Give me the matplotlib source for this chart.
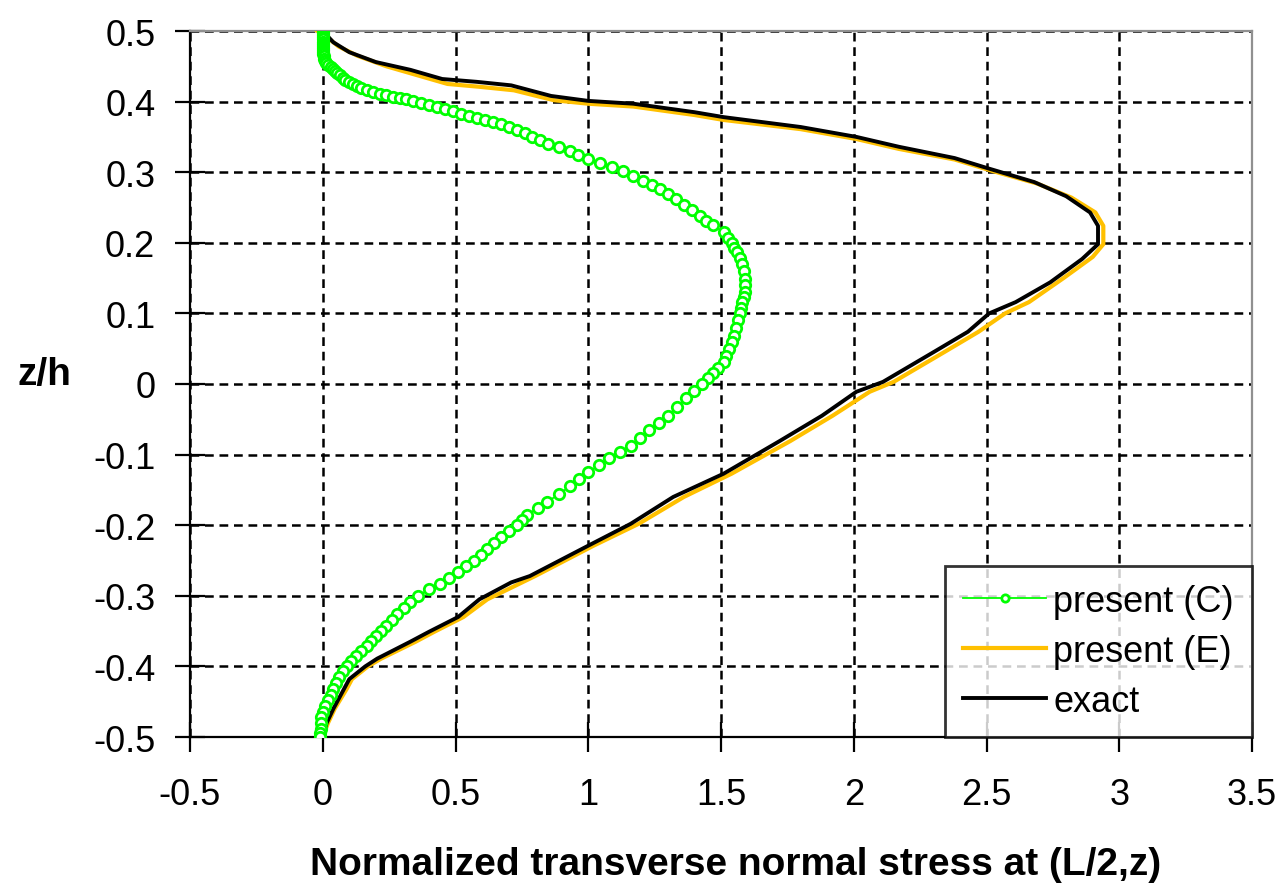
import matplotlib
matplotlib.use('Agg')
import matplotlib.pyplot as plt
from matplotlib.ticker import FuncFormatter, MultipleLocator

plt.rcParams['font.family'] = ['Liberation Sans', 'DejaVu Sans']
plt.rcParams['axes.unicode_minus'] = False

# exact solution (z/h, stress)
exact_z = [0.5, 0.484, 0.47, 0.456, 0.445, 0.432, 0.428, 0.423, 0.408, 0.401, 0.397, 0.385,
           0.378, 0.364, 0.35, 0.336, 0.32, 0.305, 0.286, 0.266, 0.243, 0.224, 0.198, 0.177,
           0.144, 0.116, 0.10, 0.074, 0.045, 0.003, -0.011, -0.045, -0.081, -0.127, -0.16,
           -0.198, -0.229, -0.272, -0.281, -0.305, -0.33, -0.351, -0.365, -0.389, -0.40,
           -0.418, -0.432, -0.46, -0.48, -0.5]
exact_x = [0.0, 0.04, 0.10, 0.20, 0.33, 0.45, 0.58, 0.71, 0.86, 1.0, 1.17, 1.40,
           1.51, 1.80, 2.01, 2.17, 2.38, 2.51, 2.68, 2.80, 2.89, 2.92, 2.92, 2.86,
           2.74, 2.61, 2.51, 2.43, 2.30, 2.11, 2.01, 1.88, 1.72, 1.51, 1.32,
           1.16, 1.0, 0.78, 0.71, 0.59, 0.51, 0.40, 0.33, 0.205, 0.16,
           0.10, 0.08, 0.04, 0.015, 0.0]

# present (E)
pres_e_z = [0.5, 0.49, 0.478, 0.465, 0.45, 0.438, 0.425, 0.421, 0.416, 0.402, 0.397, 0.393,
            0.381, 0.374, 0.361, 0.347, 0.333, 0.318, 0.302, 0.284, 0.264, 0.243, 0.224,
            0.198, 0.18, 0.15, 0.116, 0.10, 0.074, 0.045, 0.003, -0.011, -0.045, -0.081,
            -0.127, -0.16, -0.198, -0.229, -0.272, -0.305, -0.33, -0.351, -0.365, -0.389,
            -0.40, -0.418, -0.432, -0.46, -0.48, -0.5]
pres_e_x = [-0.02, 0.02, 0.06, 0.13, 0.24, 0.35, 0.47, 0.59, 0.72, 0.87, 1.0, 1.17,
            1.40, 1.51, 1.80, 2.01, 2.17, 2.38, 2.52, 2.69, 2.82, 2.91, 2.94,
            2.94, 2.90, 2.79, 2.66, 2.57, 2.47, 2.34, 2.15, 2.06, 1.92, 1.76,
            1.54, 1.36, 1.19, 1.02, 0.80, 0.62, 0.53, 0.42, 0.35, 0.22,
            0.17, 0.11, 0.09, 0.045, 0.02, 0.0]

# present (C)
pres_c_z = [0.5, 0.497, 0.494, 0.491, 0.488, 0.485, 0.482, 0.479, 0.476, 0.473, 0.47, 0.467,
            0.464, 0.461, 0.458, 0.455, 0.452, 0.449, 0.446, 0.443, 0.44, 0.437, 0.434, 0.431,
            0.428, 0.425, 0.422, 0.419, 0.416, 0.413, 0.411, 0.409, 0.407, 0.405, 0.403, 0.401,
            0.398, 0.395, 0.392, 0.389, 0.386, 0.383, 0.38, 0.377, 0.374, 0.371, 0.368, 0.364,
            0.36, 0.355, 0.35, 0.345, 0.34, 0.335, 0.33, 0.325, 0.319, 0.313, 0.307, 0.301,
            0.295, 0.288, 0.282, 0.276, 0.269, 0.262, 0.254, 0.246, 0.238, 0.231, 0.225, 0.215,
            0.207, 0.2, 0.193, 0.187, 0.178, 0.17, 0.16, 0.149, 0.14, 0.13, 0.123, 0.116,
            0.108, 0.1, 0.09, 0.079, 0.068, 0.059, 0.05, 0.04, 0.031, 0.023, 0.015, 0.008,
            0.0, -0.01, -0.02, -0.032, -0.045, -0.055, -0.065, -0.077, -0.088, -0.097, -0.105,
            -0.115, -0.125, -0.135, -0.145, -0.156, -0.167, -0.176, -0.185, -0.193, -0.2,
            -0.208, -0.217, -0.225, -0.234, -0.242, -0.25, -0.258, -0.266, -0.275, -0.283,
            -0.291, -0.3, -0.309, -0.317, -0.326, -0.334, -0.343, -0.35, -0.357, -0.364,
            -0.371, -0.378, -0.385, -0.392, -0.399, -0.407, -0.415, -0.423, -0.432, -0.44,
            -0.448, -0.456, -0.465, -0.472, -0.48, -0.488, -0.495, -0.5]
pres_c_x = [0.0, 0.0, 0.0, 0.0, 0.0, 0.0, 0.0, 0.0, 0.0, 0.0, 0.0, 0.0,
            0.003, 0.006, 0.009, 0.013, 0.02, 0.03, 0.037, 0.045, 0.055, 0.065, 0.075, 0.085,
            0.10, 0.115, 0.13, 0.145, 0.165, 0.19, 0.215, 0.24, 0.265, 0.29, 0.315, 0.34,
            0.37, 0.40, 0.43, 0.46, 0.49, 0.52, 0.55, 0.58, 0.61, 0.64, 0.67, 0.70,
            0.73, 0.76, 0.79, 0.82, 0.85, 0.89, 0.93, 0.96, 1.0, 1.045, 1.09, 1.13,
            1.17, 1.205, 1.24, 1.27, 1.30, 1.33, 1.36, 1.39, 1.42, 1.445, 1.47, 1.51,
            1.525, 1.54, 1.55, 1.56, 1.57, 1.58, 1.585, 1.59, 1.59, 1.59, 1.585, 1.58,
            1.575, 1.57, 1.565, 1.555, 1.55, 1.54, 1.53, 1.52, 1.51, 1.49, 1.47, 1.45,
            1.43, 1.40, 1.37, 1.335, 1.30, 1.265, 1.23, 1.195, 1.16, 1.12, 1.08,
            1.04, 1.0, 0.965, 0.93, 0.89, 0.845, 0.81, 0.77, 0.75, 0.73,
            0.70, 0.67, 0.645, 0.62, 0.595, 0.57, 0.54, 0.51, 0.475, 0.44,
            0.40, 0.36, 0.33, 0.305, 0.28, 0.26, 0.24, 0.22, 0.20, 0.18,
            0.165, 0.145, 0.125, 0.107, 0.09, 0.075, 0.06, 0.05, 0.04, 0.03,
            0.02, 0.01, 0.0, -0.005, -0.005, -0.008, -0.01, -0.01]

xtick_step = 0.5
ytick_step = 0.1

fig = plt.figure(figsize=(12.88, 8.87), dpi=100)
ax = fig.add_axes([190 / 1288, 149 / 887, 1062 / 1288, 706 / 887])

ax.plot(pres_e_x, pres_e_z, color='#FFC000', lw=3.0, zorder=3, label='present (E)')
ax.plot(exact_x, exact_z, color='black', lw=2.8, zorder=4, label='exact')
ax.plot(pres_c_x, pres_c_z, color='#00FF00', lw=1.3, marker='o', markersize=7.5,
        markerfacecolor='white', markeredgecolor='#00FF00', markeredgewidth=2.0,
        zorder=5, label='present (C)')

ax.set_xlim(-0.5, 3.5)
ax.set_ylim(-0.5, 0.5)
ax.xaxis.set_major_locator(MultipleLocator(xtick_step))
ax.yaxis.set_major_locator(MultipleLocator(ytick_step))
fmt = FuncFormatter(lambda v, p: '%g' % (round(v, 3) + 0.0))
ax.xaxis.set_major_formatter(fmt)
ax.yaxis.set_major_formatter(fmt)

ax.grid(True, color='black', ls=(0, (3.5, 2.3)), lw=1.8)
ax.set_axisbelow(True)

for s in ['left', 'bottom']:
    ax.spines[s].set_color('black')
    ax.spines[s].set_linewidth(1.6)
for s in ['top', 'right']:
    ax.spines[s].set_color('#909090')
    ax.spines[s].set_linewidth(1.6)

ax.tick_params(axis='both', direction='inout', length=22, width=1.6, labelsize=26)
ax.tick_params(axis='x', pad=18)
ax.tick_params(axis='y', pad=14)

ax.set_xlabel('Normalized transverse normal stress at (L/2,z)', fontsize=28, fontweight='bold',
              va='baseline')
ax.xaxis.set_label_coords(0.514, -0.194)
ax.set_ylabel('z/h', fontsize=28, fontweight='bold', rotation=0, ha='center', va='baseline')
ax.yaxis.set_label_coords(-0.137, 0.5)

h, l = ax.get_legend_handles_labels()
order = [2, 0, 1]
leg = ax.legend([h[i] for i in order], [l[i] for i in order], loc='lower right',
                fontsize=26, frameon=True, fancybox=False, borderaxespad=0,
                handlelength=2.3, handletextpad=0.2, labelspacing=0.42, borderpad=0.5,
                markerscale=0.7)
leg.get_frame().set_edgecolor('black')
leg.get_frame().set_linewidth(2)
leg.set_zorder(10)

plt.savefig('out.png', dpi=100, facecolor='white')
